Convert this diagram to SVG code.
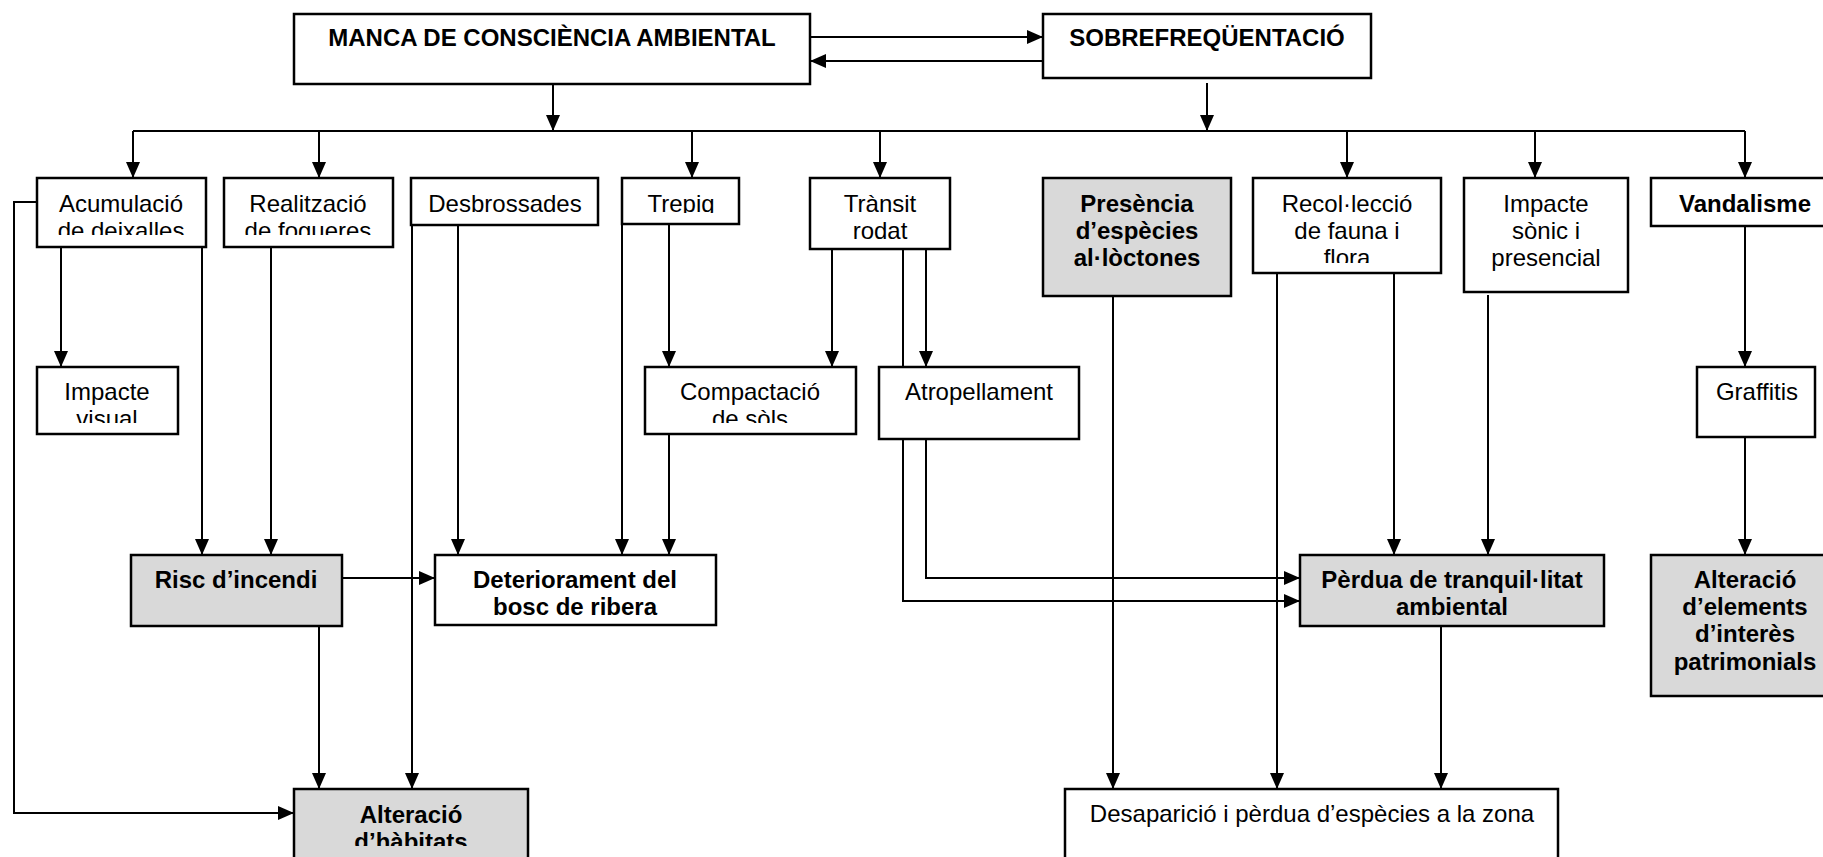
<svg xmlns="http://www.w3.org/2000/svg" width="1823" height="857" viewBox="0 0 1823 857">
<style>
.box{fill:#fff;stroke:#000;stroke-width:2.5}
.gray{fill:#d9d9d9}
.t{font-family:"Liberation Sans",Arial,sans-serif;font-size:24px;text-anchor:middle;fill:#000}
.b{font-weight:bold}
.c{fill:none;stroke:#000;stroke-width:2}
</style>
<defs>
<marker id="ah" markerUnits="userSpaceOnUse" markerWidth="16" markerHeight="14" refX="16" refY="7" orient="auto">
<path d="M0,0 L16,7 L0,14 z" fill="#000"/>
</marker>
<clipPath id="cAcum"><rect x="37" y="178" width="169" height="57"/></clipPath>
<clipPath id="cReal"><rect x="224" y="178" width="169" height="57"/></clipPath>
<clipPath id="cTrep"><rect x="622" y="178" width="117" height="35"/></clipPath>
<clipPath id="cImpv"><rect x="37" y="367" width="141" height="56"/></clipPath>
<clipPath id="cComp"><rect x="645" y="367" width="211" height="56"/></clipPath>
<clipPath id="cRecol"><rect x="1253" y="178" width="188" height="85"/></clipPath>
<clipPath id="cAhab"><rect x="294" y="789" width="234" height="57"/></clipPath>
</defs>
<rect width="1823" height="857" fill="#fff"/>

<g id="connectors" class="c" marker-end="url(#ah)">
<path d="M810,37 H1043"/>
<path d="M1043,61 H810"/>
<path d="M553,84 V131"/>
<path d="M1207,83 V131"/>
<path d="M133,131 H1745" marker-end="none"/>
<path d="M133,131 V178"/>
<path d="M319,131 V178"/>
<path d="M692,131 V178"/>
<path d="M880,131 V178"/>
<path d="M1347,131 V178"/>
<path d="M1535,131 V178"/>
<path d="M1745,131 V178"/>
<path d="M37,202 H14 V813 H294"/>
<path d="M61,247 V367"/>
<path d="M202,247 V555"/>
<path d="M271,247 V555"/>
<path d="M458,225 V555"/>
<path d="M412,225 V789"/>
<path d="M622,224 V555"/>
<path d="M669,224 V367"/>
<path d="M669,434 V555"/>
<path d="M832,249 V367"/>
<path d="M926,249 V367"/>
<path d="M903,249 V601 H1300"/>
<path d="M926,439 V578 H1300"/>
<path d="M342,578 H435"/>
<path d="M319,626 V789"/>
<path d="M1113,296 V789"/>
<path d="M1277,273 V789"/>
<path d="M1394,273 V555"/>
<path d="M1488,295 V555"/>
<path d="M1441,626 V789"/>
<path d="M1745,226 V367"/>
<path d="M1745,437 V555"/>
</g>

<g id="n-manca">
<rect class="box" x="294" y="14" width="516" height="70"/>
<text class="t b" x="552" y="46">MANCA DE CONSCIÈNCIA AMBIENTAL</text>
</g>
<g id="n-sobre">
<rect class="box" x="1043" y="14" width="328" height="64"/>
<text class="t b" x="1207" y="46">SOBREFREQÜENTACIÓ</text>
</g>

<g id="n-acum">
<rect class="box" x="37" y="178" width="169" height="69"/>
<g clip-path="url(#cAcum)"><text class="t" x="121" y="212">Acumulació</text><text class="t" x="121" y="239">de deixalles</text></g>
</g>
<g id="n-real">
<rect class="box" x="224" y="178" width="169" height="69"/>
<g clip-path="url(#cReal)"><text class="t" x="308" y="212">Realització</text><text class="t" x="308" y="239">de fogueres</text></g>
</g>
<g id="n-desbr">
<rect class="box" x="411" y="178" width="187" height="47"/>
<text class="t" x="505" y="212">Desbrossades</text>
</g>
<g id="n-trepig">
<rect class="box" x="622" y="178" width="117" height="46"/>
<g clip-path="url(#cTrep)"><text class="t" x="681" y="212">Trepig</text></g>
</g>
<g id="n-transit">
<rect class="box" x="810" y="178" width="140" height="71"/>
<text class="t" x="880" y="212">Trànsit</text>
<text class="t" x="880" y="239">rodat</text>
</g>
<g id="n-presencia">
<rect class="box gray" x="1043" y="178" width="188" height="118"/>
<text class="t b" x="1137" y="212">Presència</text>
<text class="t b" x="1137" y="239">d’espècies</text>
<text class="t b" x="1137" y="266">al·lòctones</text>
</g>
<g id="n-recol">
<rect class="box" x="1253" y="178" width="188" height="95"/>
<g clip-path="url(#cRecol)"><text class="t" x="1347" y="212">Recol·lecció</text><text class="t" x="1347" y="239">de fauna i</text><text class="t" x="1347" y="266">flora</text></g>
</g>
<g id="n-sonic">
<rect class="box" x="1464" y="178" width="164" height="114"/>
<text class="t" x="1546" y="212">Impacte</text>
<text class="t" x="1546" y="239">sònic i</text>
<text class="t" x="1546" y="266">presencial</text>
</g>
<g id="n-vandal">
<rect class="box" x="1651" y="178" width="190" height="48"/>
<text class="t b" x="1745" y="212">Vandalisme</text>
</g>

<g id="n-impvis">
<rect class="box" x="37" y="367" width="141" height="67"/>
<g clip-path="url(#cImpv)"><text class="t" x="107" y="400">Impacte</text><text class="t" x="107" y="427">visual</text></g>
</g>
<g id="n-compact">
<rect class="box" x="645" y="367" width="211" height="67"/>
<g clip-path="url(#cComp)"><text class="t" x="750" y="400">Compactació</text><text class="t" x="750" y="427">de sòls</text></g>
</g>
<g id="n-atrop">
<rect class="box" x="879" y="367" width="200" height="72"/>
<text class="t" x="979" y="400">Atropellament</text>
</g>
<g id="n-graff">
<rect class="box" x="1697" y="367" width="118" height="70"/>
<text class="t" x="1757" y="400">Graffitis</text>
</g>

<g id="n-risc">
<rect class="box gray" x="131" y="555" width="211" height="71"/>
<text class="t b" x="236" y="588">Risc d’incendi</text>
</g>
<g id="n-deter">
<rect class="box" x="435" y="555" width="281" height="70"/>
<text class="t b" x="575" y="588">Deteriorament del</text>
<text class="t b" x="575" y="615">bosc de ribera</text>
</g>
<g id="n-perdua">
<rect class="box gray" x="1300" y="555" width="304" height="71"/>
<text class="t b" x="1452" y="588">Pèrdua de tranquil·litat</text>
<text class="t b" x="1452" y="615">ambiental</text>
</g>
<g id="n-altelem">
<rect class="box gray" x="1651" y="555" width="190" height="141"/>
<text class="t b" x="1745" y="588">Alteració</text>
<text class="t b" x="1745" y="615">d’elements</text>
<text class="t b" x="1745" y="642">d’interès</text>
<text class="t b" x="1745" y="670">patrimonials</text>
</g>

<g id="n-althab">
<rect class="box gray" x="294" y="789" width="234" height="80"/>
<g clip-path="url(#cAhab)"><text class="t b" x="411" y="823">Alteració</text><text class="t b" x="411" y="850">d’hàbitats</text></g>
</g>
<g id="n-desap">
<rect class="box" x="1065" y="789" width="493" height="80"/>
<text class="t" x="1312" y="822">Desaparició i pèrdua d’espècies a la zona</text>
</g>
</svg>
